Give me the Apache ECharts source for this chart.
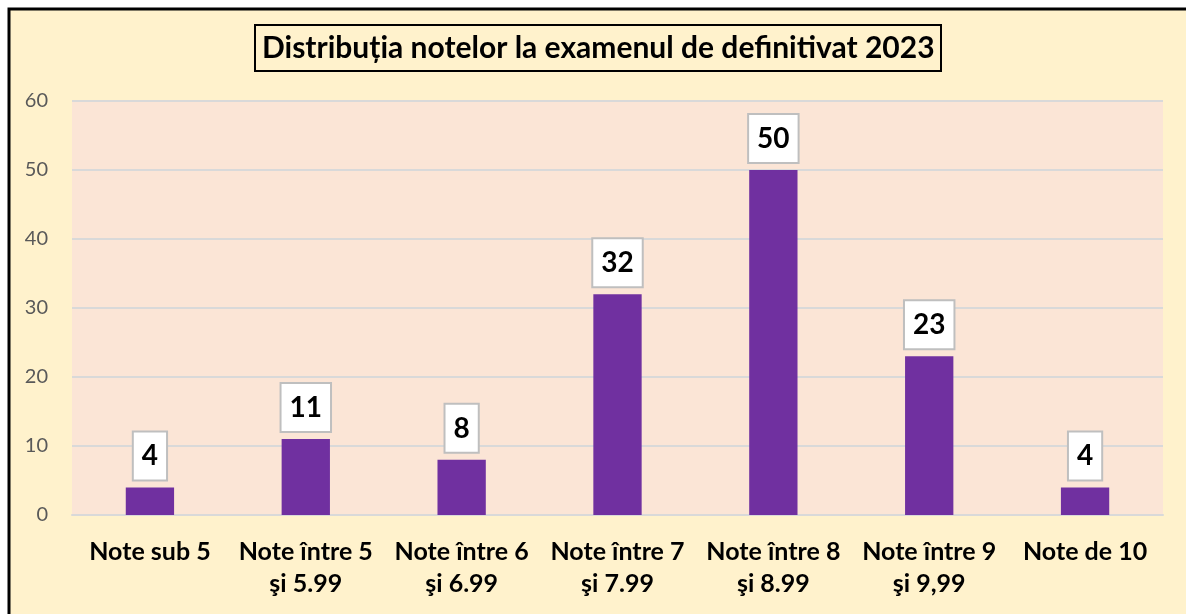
<!DOCTYPE html>
<html><head><meta charset="utf-8">
<script src="https://cdn.jsdelivr.net/npm/echarts@6/dist/echarts.min.js"></script>
<style>html,body{margin:0;padding:0;background:#fff;}#c{width:1186px;height:614px;}</style>
</head><body><div id="c"></div>
<script>
const titleText = 'Distribuția notelor la examenul de definitivat 2023';
const categories = ['Note sub 5', 'Note între 5\nşi 5.99', 'Note între 6\nşi 6.99', 'Note între 7\nşi 7.99', 'Note între 8\nşi 8.99', 'Note între 9\nşi 9,99', 'Note de 10'];
const values = [4, 11, 8, 32, 50, 23, 4];
const yTicks = {min: 0, max: 60, interval: 10};

const FONT = 'Lato, "Open Sans", sans-serif';
const chart = echarts.init(document.getElementById('c'), null, {renderer: 'canvas'});
chart.setOption({
  animation: false,
  backgroundColor: '#fff',
  graphic: [
    {type: 'rect', z: -10, shape: {x: 9, y: 9, width: 1200, height: 640}, style: {fill: '#FFF2CC', stroke: '#000', lineWidth: 3}},
    {type: 'rect', z: -9, shape: {x: 72, y: 101, width: 1091, height: 414}, style: {fill: '#FBE5D6'}}
  ],
  title: {
    text: titleText, left: 255, top: 25,
    padding: [8, 7, 8, 7],
    borderColor: '#000', borderWidth: 2, backgroundColor: '#FFF2CC',
    textStyle: {fontFamily: FONT, fontWeight: 'bold', fontSize: 30, lineHeight: 30, color: '#000'}
  },
  grid: {left: 72, right: 23, top: 101, bottom: 99, containLabel: false},
  xAxis: {
    type: 'category', data: categories,
    axisLine: {show: true, lineStyle: {color: '#D9D9D9', width: 2}},
    axisTick: {show: false},
    axisLabel: {interval: 0, margin: 21, fontFamily: FONT, fontWeight: 'bold', fontSize: 25, color: '#000', lineHeight: 32}
  },
  yAxis: {
    type: 'value', min: yTicks.min, max: yTicks.max, interval: yTicks.interval,
    axisLine: {show: false}, axisTick: {show: false},
    splitLine: {lineStyle: {color: '#D9D9D9', width: 2}},
    axisLabel: {fontFamily: FONT, fontSize: 20, color: '#595959', margin: 24}
  },
  series: [{
    type: 'bar', data: values, barWidth: '31%',
    itemStyle: {color: '#7030A0'},
    label: {
      show: true, position: 'top', distance: 8,
      fontFamily: FONT, fontWeight: 'bold', fontSize: 28, color: '#000',
      backgroundColor: '#fff', borderColor: '#BFBFBF', borderWidth: 2,
      padding: [9, 8, 8, 8], lineHeight: 30
    }
  }]
});
</script></body></html>
